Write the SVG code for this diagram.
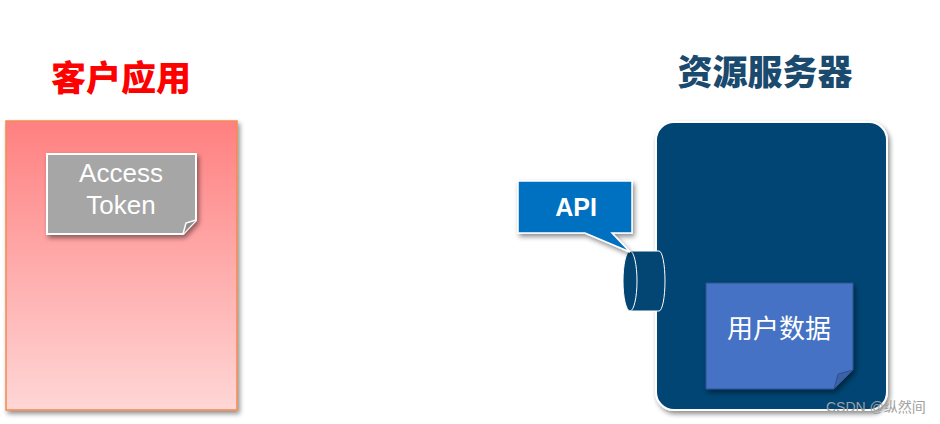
<svg xmlns="http://www.w3.org/2000/svg" width="940" height="424" viewBox="0 0 940 424">
<defs>
<linearGradient id="pinkGrad" x1="0" y1="0" x2="0" y2="1">
<stop offset="0" stop-color="#ff8080"/>
<stop offset="1" stop-color="#ffd6d6"/>
</linearGradient>
<filter id="shadow" x="-10%" y="-10%" width="130%" height="130%">
<feGaussianBlur in="SourceAlpha" stdDeviation="2.5"/>
<feOffset dx="2" dy="3" result="b"/>
<feComponentTransfer><feFuncA type="linear" slope="0.45"/></feComponentTransfer>
<feMerge><feMergeNode/><feMergeNode in="SourceGraphic"/></feMerge>
</filter>
</defs>
<style>
.title{font-family:"Noto Sans CJK SC","Liberation Sans",sans-serif;font-weight:900;font-size:35px;text-anchor:middle}
.lbl{font-family:"Noto Sans","Noto Sans CJK SC",sans-serif;fill:#ffffff;text-anchor:middle}
.tok{font-family:"Liberation Sans",Arial,sans-serif;fill:#ffffff;text-anchor:middle;font-size:26px}
.wm{font-family:"Liberation Sans","Noto Sans CJK SC",sans-serif;font-size:14px;fill:#a0a0a0}
</style>
<rect width="940" height="424" fill="#ffffff"/>

<g id="client-title"><text class="title" x="121" y="91" fill="#ff0000">客户应用</text></g>
<g id="server-title"><text class="title" x="765" y="85" fill="#1a4a6e">资源服务器</text></g>

<g id="client-app">
<rect x="6" y="121" width="231" height="289" fill="url(#pinkGrad)" stroke="#f4894f" stroke-width="1.5" filter="url(#shadow)"/>
</g>

<g id="access-token">
<path d="M47,154 H196 V220 L183,234 H47 Z" fill="#a6a6a6" stroke="#ffffff" stroke-width="2" filter="url(#shadow)"/>
<path d="M183,234 L186,223 L196,220" fill="#8c8c8c" stroke="#ffffff" stroke-width="1.5"/>
<text class="tok" x="121" y="182">Access</text>
<text class="tok" x="121" y="214">Token</text>
</g>

<g id="resource-server">
<rect x="656" y="122" width="231" height="288" rx="18" ry="18" fill="#034573" stroke="#ffffff" stroke-width="2" filter="url(#shadow)"/>
</g>

<g id="user-data">
<path d="M706,283 H853 V370 L834,389 H706 Z" fill="#4472c4" stroke="#2f528f" stroke-width="1" filter="url(#shadow)"/>
<path d="M834,389 L838,374 L853,370 Z" fill="#3a62a8" stroke="#2f528f" stroke-width="1"/>
<text class="lbl" x="779" y="338" font-size="26">用户数据</text>
</g>

<g id="connectors">
<g id="api-port">
<path d="M630,251 H659 A6,30 0 0 1 659,311 H630 Z" fill="#034573" stroke="#ffffff" stroke-width="1"/>
<ellipse cx="630" cy="281" rx="7" ry="30" fill="#034573" stroke="#ffffff" stroke-width="1"/>
</g>
</g>

<g id="api-callout">
<path d="M518,181 H632 V233 H612 L630,252 L585,233 H518 Z" fill="#0070c0" stroke="#ffffff" stroke-width="1.5" filter="url(#shadow)"/>
<text x="576" y="216" font-family="Liberation Sans, Arial, sans-serif" font-weight="bold" font-size="25" fill="#ffffff" text-anchor="middle">API</text>
</g>

<g id="watermark"><text class="wm" x="826" y="412">CSDN @纵然间</text></g>
</svg>
